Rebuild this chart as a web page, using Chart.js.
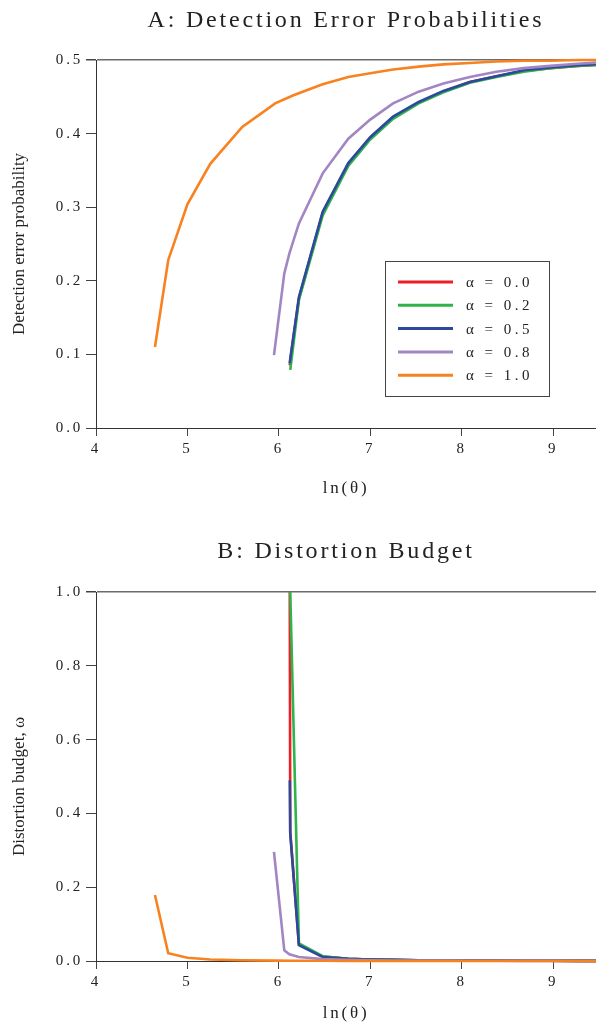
<!DOCTYPE html>
<html><head><meta charset="utf-8">
<script src="https://cdn.jsdelivr.net/npm/chart.js@4.4.1/dist/chart.umd.min.js"></script>
<style>
html,body{margin:0;padding:0;background:#fff;overflow:hidden;}
#wrapA{position:absolute;left:0;top:0;width:596px;height:512px;}
#wrapB{position:absolute;left:0;top:512px;width:596px;height:513px;}
</style></head><body>
<div id="wrapA"><canvas id="cA"></canvas></div>
<div id="wrapB"><canvas id="cB"></canvas></div>
<script>
// ---------- data ----------
const seriesLabels = ['α = 0.0', 'α = 0.2', 'α = 0.5', 'α = 0.8', 'α = 1.0'];
const seriesColors = ['#ec1f26', '#2fb34b', '#2b4a9b', '#a286c4', '#f7821f'];
const xTickValues = [4, 5, 6, 7, 8, 9];

const lnTheta00 = [6.12, 6.125, 6.22, 6.48, 6.76, 7.0, 7.25, 7.53, 7.8, 8.09, 8.38, 8.68, 8.97, 9.27, 9.56];
const lnTheta02 = [6.125, 6.22, 6.48, 6.76, 7.0, 7.25, 7.53, 7.8, 8.09, 8.38, 8.68, 8.97, 9.27, 9.56];
const lnTheta05 = [6.12, 6.125, 6.22, 6.48, 6.76, 7.0, 7.25, 7.53, 7.8, 8.09, 8.38, 8.68, 8.97, 9.27, 9.56];
const lnTheta08 = [5.947, 6.06, 6.115, 6.22, 6.48, 6.76, 7.0, 7.25, 7.53, 7.8, 8.09, 8.38, 8.68, 8.97, 9.27, 9.56];
const lnTheta10 = [4.645, 4.79, 5.0, 5.25, 5.6, 5.96, 6.16, 6.48, 6.76, 7.0, 7.25, 7.53, 7.8, 8.09, 8.38, 8.68, 8.97, 9.27, 9.56];

const detection00 = [0.085, 0.092, 0.176, 0.292, 0.358, 0.394, 0.422, 0.442, 0.457, 0.470, 0.478, 0.485, 0.489, 0.492, 0.494];
const detection02 = [0.079, 0.174, 0.289, 0.356, 0.392, 0.420, 0.441, 0.456, 0.469, 0.477, 0.484, 0.489, 0.492, 0.494];
const detection05 = [0.088, 0.094, 0.178, 0.294, 0.360, 0.395, 0.423, 0.443, 0.458, 0.470, 0.478, 0.486, 0.490, 0.493, 0.495];
const detection08 = [0.099, 0.210, 0.237, 0.278, 0.346, 0.393, 0.419, 0.441, 0.457, 0.468, 0.477, 0.484, 0.489, 0.492, 0.495, 0.497];
const detection10 = [0.110, 0.228, 0.304, 0.359, 0.409, 0.441, 0.452, 0.467, 0.477, 0.482, 0.487, 0.491, 0.494, 0.496, 0.498, 0.499, 0.499, 0.500, 0.500];

const distortion00 = [1.0, 0.35, 0.045, 0.012, 0.006, 0.004, 0.003, 0.002, 0.0015, 0.001, 0.001, 0.0005, 0.0005, 0.0003, 0.0002];
const distortion02 = [1.0, 0.048, 0.013, 0.006, 0.004, 0.003, 0.002, 0.0015, 0.001, 0.001, 0.0005, 0.0005, 0.0003, 0.0002];
const distortion05 = [0.49, 0.346, 0.043, 0.011, 0.006, 0.004, 0.003, 0.002, 0.0015, 0.001, 0.001, 0.0005, 0.0005, 0.0003, 0.0002];
const distortion08 = [0.296, 0.029, 0.018, 0.011, 0.005, 0.003, 0.002, 0.0015, 0.001, 0.001, 0.0008, 0.0005, 0.0004, 0.0003, 0.0002, 0.0001];
const distortion10 = [0.179, 0.021, 0.009, 0.004, 0.002, 0.001, 0.0008, 0.0005, 0.0004, 0.0003, 0.0002, 0.0002, 0.0001, 0.0001, 0.0001, 0, 0, 0, 0];

// ---------- helpers ----------
const SERIF = '"Liberation Serif", "Times New Roman", serif';
const TEXT = '#222';
const xs = [lnTheta00, lnTheta02, lnTheta05, lnTheta08, lnTheta10];

function pairs(xArr, yArr) { return xArr.map((x, i) => ({ x: x, y: yArr[i] })); }

function makeDatasets(yArrs) {
  return yArrs.map((ys, i) => ({
    label: seriesLabels[i],
    data: pairs(xs[i], ys),
    borderColor: seriesColors[i],
    backgroundColor: seriesColors[i],
    borderWidth: 2.6,
    pointRadius: 0,
    tension: 0,
    clip: 6,
    fill: false,
    order: yArrs.length - i   // later series drawn on top
  }));
}

const decorPlugin = {
  id: 'decor',
  beforeDraw(chart) { chart.ctx.letterSpacing = '2.8px'; },
  afterDraw(chart, args, opts) {
    const ctx = chart.ctx, a = chart.chartArea;
    // rotated y-axis title
    ctx.save();
    ctx.letterSpacing = '0px';
    ctx.font = '17px ' + SERIF;
    ctx.fillStyle = TEXT;
    ctx.translate(opts.yTitleX, (a.top + a.bottom) / 2 + (opts.yTitleShift || 0));
    ctx.rotate(-Math.PI / 2);
    ctx.textAlign = 'center';
    ctx.textBaseline = 'middle';
    ctx.fillText(opts.yTitle, 0, 0);
    ctx.restore();
    // legend box
    if (opts.legend) {
      const L = a.left + 289, T = a.top + 201, W = 164, H = 135;
      ctx.save();
      ctx.strokeStyle = '#444';
      ctx.lineWidth = 1;
      ctx.strokeRect(L + 0.5, T + 0.5, W, H);
      ctx.font = '15px ' + SERIF;
      ctx.letterSpacing = '3.5px';
      ctx.textBaseline = 'middle';
      ctx.textAlign = 'left';
      chart.data.datasets.forEach((ds, i) => {
        const y = T + 21 + i * 23.3;
        ctx.strokeStyle = ds.borderColor;
        ctx.lineWidth = 3;
        ctx.beginPath();
        ctx.moveTo(L + 13, y);
        ctx.lineTo(L + 68, y);
        ctx.stroke();
        ctx.fillStyle = TEXT;
        ctx.fillText(ds.label, L + 81, y + 1);
      });
      ctx.restore();
    }
  }
};

function makeChart(id, cfg) {
  return new Chart(document.getElementById(id), {
    type: 'line',
    data: { datasets: makeDatasets(cfg.yArrs) },
    plugins: [decorPlugin],
    options: {
      responsive: true,
      maintainAspectRatio: false,
      animation: false,
      devicePixelRatio: 1,
      layout: { padding: 0 },
      plugins: {
        legend: { display: false },
        tooltip: { enabled: false },
        title: {
          display: true,
          text: cfg.title,
          fullSize: false,
          color: TEXT,
          font: { family: SERIF, size: 24, weight: 'normal', lineHeight: 1.2 },
          padding: cfg.titlePad
        },
        decor: { yTitle: cfg.yTitle, yTitleX: 20, yTitleShift: cfg.yTitleShift || 0, legend: cfg.legend }
      },
      scales: {
        x: {
          type: 'linear',
          min: 4,
          max: 9.47,
          afterFit: s => { s.height = cfg.xHeight; },
          afterBuildTicks: s => { s.ticks = xTickValues.map(v => ({ value: v })); },
          ticks: {
            includeBounds: false,
            color: TEXT,
            padding: 4,
            maxRotation: 0,
            font: { family: SERIF, size: 15 },
            callback: v => String(v)
          },
          grid: { drawOnChartArea: false, drawTicks: true, tickLength: 8, tickColor: '#444', lineWidth: 1 },
          border: { display: true, color: '#333', width: 1 },
          title: {
            display: true,
            text: 'ln(θ)',
            color: TEXT,
            font: { family: SERIF, size: 17, lineHeight: 1.2 },
            padding: { top: 0, bottom: cfg.xTitlePad }
          }
        },
        y: {
          type: 'linear',
          min: 0,
          max: cfg.yMax,
          afterFit: s => { s.width = 96; },
          ticks: {
            stepSize: cfg.yStep,
            color: TEXT,
            padding: 3,
            font: { family: SERIF, size: 15 },
            callback: v => v.toFixed(1)
          },
          grid: {
            drawOnChartArea: true,
            drawTicks: true,
            tickLength: 10,
            tickColor: '#444',
            color: c => (c.tick && Math.abs(c.tick.value - cfg.yMax) < 1e-9) ? '#6a6a6a' : 'rgba(0,0,0,0)',
            lineWidth: c => (c.tick && Math.abs(c.tick.value - cfg.yMax) < 1e-9) ? 1.5 : 1
          },
          border: { display: true, color: '#333', width: 1 },
          title: { display: false }
        }
      }
    }
  });
}

makeChart('cA', {
  title: 'A: Detection Error Probabilities',
  titlePad: { top: 6.6, bottom: 24.6 },
  yTitle: 'Detection error probability',
  yArrs: [detection00, detection02, detection05, detection08, detection10],
  yMax: 0.5, yStep: 0.1,
  xHeight: 84, xTitlePad: 13,
  legend: true
});

makeChart('cB', {
  title: 'B: Distortion Budget',
  titlePad: { top: 25.6, bottom: 25.6 },
  yTitle: 'Distortion budget, ω',
  yTitleShift: 10,
  yArrs: [distortion00, distortion02, distortion05, distortion08, distortion10],
  yMax: 1.0, yStep: 0.2,
  xHeight: 64, xTitlePad: 1,
  legend: false
});
</script>
</body></html>
